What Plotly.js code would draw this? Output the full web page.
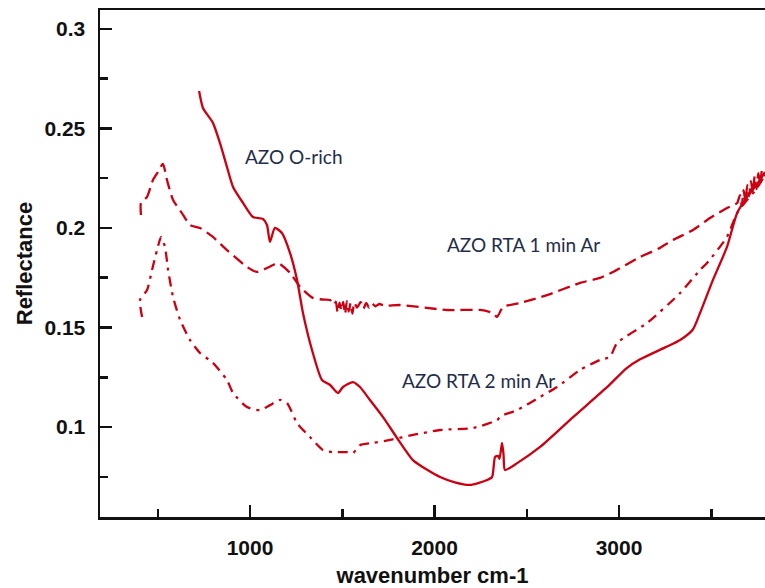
<!DOCTYPE html>
<html>
<head>
<meta charset="utf-8">
<script src="https://cdn.plot.ly/plotly-3.0.1.min.js"></script>
<style>html,body{margin:0;padding:0;background:#fff;}#chart{width:765px;height:588px;}</style>
</head>
<body>
<div id="chart"></div>
<script>
// AZO O-rich (solid)
const oRichX = [724, 745, 799, 837, 875, 908, 962, 1016, 1070, 1092, 1108, 1135, 1173, 1217, 1255, 1287, 1336, 1390, 1434, 1477, 1504, 1558, 1596, 1650, 1721, 1797, 1883, 1960, 2030, 2110, 2192, 2285, 2312, 2328, 2344, 2352, 2366, 2374, 2382, 2450, 2572, 2751, 2935, 3040, 3114, 3250, 3331, 3400, 3439, 3509, 3585, 3640, 3694, 3740, 3791];
const oRichY = [0.2688, 0.2603, 0.2528, 0.2427, 0.2307, 0.2206, 0.2126, 0.2055, 0.2045, 0.2015, 0.193, 0.200, 0.1975, 0.1874, 0.1739, 0.1573, 0.1387, 0.1236, 0.1211, 0.1171, 0.1201, 0.1226, 0.1201, 0.1136, 0.1050, 0.0945, 0.0834, 0.0785, 0.0749, 0.0722, 0.0709, 0.0734, 0.0749, 0.0849, 0.0855, 0.0840, 0.0920, 0.0860, 0.0784, 0.0820, 0.0900, 0.1050, 0.1200, 0.1295, 0.1340, 0.1400, 0.1437, 0.1490, 0.1573, 0.1739, 0.1905, 0.2075, 0.2156, 0.2210, 0.2281];

// AZO RTA 1 min Ar (dashed)
const rta1X = [409, 409, 442, 474, 501, 528, 550, 583, 631, 675, 729, 799, 875, 984, 1038, 1125, 1152, 1217, 1271, 1341, 1400, 1434, 1455, 1465, 1475, 1485, 1495, 1505, 1515, 1525, 1535, 1545, 1555, 1565, 1580, 1600, 1615, 1630, 1645, 1660, 1680, 1700, 1730, 1813, 2068, 2247, 2317, 2339, 2371, 2463, 2610, 2789, 2897, 2967, 3114, 3222, 3293, 3401, 3493, 3585, 3640, 3655, 3665, 3675, 3685, 3695, 3705, 3715, 3725, 3735, 3745, 3755, 3765, 3775, 3791];
const rta1Y = [0.2065, 0.2126, 0.2156, 0.2241, 0.2281, 0.2322, 0.2241, 0.2141, 0.2075, 0.2015, 0.2000, 0.1955, 0.1889, 0.1804, 0.1779, 0.1814, 0.1824, 0.1774, 0.1704, 0.1648, 0.1640, 0.1638, 0.1615, 0.1630, 0.1575, 0.1625, 0.1585, 0.1628, 0.1568, 0.1632, 0.1580, 0.1622, 0.1570, 0.1625, 0.1600, 0.1628, 0.1595, 0.1624, 0.1600, 0.1622, 0.1606, 0.1618, 0.1610, 0.1613, 0.1588, 0.1588, 0.1573, 0.1553, 0.1603, 0.1623, 0.1663, 0.1724, 0.1749, 0.1779, 0.1854, 0.1900, 0.1940, 0.1990, 0.2050, 0.2100, 0.2125, 0.2165, 0.2110, 0.2190, 0.2135, 0.2215, 0.2160, 0.2235, 0.2175, 0.2260, 0.2195, 0.2275, 0.2220, 0.2290, 0.2260];

// AZO RTA 2 min Ar (dash-dot)
const rta2X = [415, 404, 442, 469, 496, 518, 539, 556, 583, 621, 675, 729, 799, 875, 908, 984, 1054, 1108, 1163, 1201, 1255, 1325, 1396, 1450, 1526, 1558, 1596, 1667, 1759, 1883, 2030, 2209, 2339, 2360, 2447, 2572, 2664, 2789, 2897, 2951, 2989, 3152, 3331, 3439, 3477, 3585, 3640, 3694, 3740, 3791];
const rta2Y = [0.1553, 0.1638, 0.1688, 0.1789, 0.1889, 0.1955, 0.1905, 0.1789, 0.1653, 0.1538, 0.1437, 0.1372, 0.1322, 0.1236, 0.1171, 0.1100, 0.1085, 0.1110, 0.1136, 0.1120, 0.1020, 0.0950, 0.0884, 0.0874, 0.0874, 0.0869, 0.0909, 0.0920, 0.0935, 0.0960, 0.0985, 0.0995, 0.1035, 0.1055, 0.1085, 0.1151, 0.1201, 0.1287, 0.1337, 0.1352, 0.1422, 0.1523, 0.1673, 0.1789, 0.1824, 0.1955, 0.2075, 0.2141, 0.2190, 0.2266];

const labels = ["AZO O-rich", "AZO RTA 1 min Ar", "AZO RTA 2 min Ar"];
const labelX = [1233, 2480, 2236];
const labelY = [0.2357, 0.1915, 0.1236];

const red = "rgb(204,0,17)";
const traces = [
  {x: oRichX, y: oRichY, mode: "lines", name: labels[0], line: {color: red, width: 2.3, shape: "spline", smoothing: 0.6}},
  {x: rta1X, y: rta1Y, mode: "lines", name: labels[1], line: {color: red, width: 2.3, dash: "12px,6px", shape: "spline", smoothing: 0.6}},
  {x: rta2X, y: rta2Y, mode: "lines", name: labels[2], line: {color: red, width: 2.3, dash: "10px,6px,3px,6px", shape: "spline", smoothing: 0.6}}
];

const tickFont = {family: "Liberation Sans, Arial, sans-serif", size: 21, color: "#111", weight: 700};
const layout = {
  width: 765, height: 588,
  margin: {l: 100, r: 0, t: 10, b: 71},
  paper_bgcolor: "#fff", plot_bgcolor: "#fff",
  showlegend: false,
  xaxis: {
    range: [187, 3791], showgrid: false, zeroline: false,
    showline: true, linecolor: "#111", linewidth: 2.5, mirror: true,
    ticks: "inside", ticklen: 12, tickwidth: 2.5, tickcolor: "#111",
    tick0: 0, dtick: 1000, tickfont: tickFont, ticklabelstandoff: 10,
    minor: {ticks: "inside", ticklen: 8, tickwidth: 2.5, tickcolor: "#111", dtick: 500, tick0: 0, showgrid: false},
    title: {text: "wavenumber cm-1", font: {family: "Liberation Sans, Arial, sans-serif", size: 22, color: "#111", weight: 700}, standoff: 10}
  },
  yaxis: {
    range: [0.0548, 0.3095], showgrid: false, zeroline: false,
    showline: true, linecolor: "#111", linewidth: 2.5,
    ticks: "inside", ticklen: 12, tickwidth: 2.5, tickcolor: "#111",
    tick0: 0, dtick: 0.05, tickfont: tickFont, ticklabelstandoff: 8,
    minor: {ticks: "inside", ticklen: 8, tickwidth: 2.5, tickcolor: "#111", dtick: 0.025, tick0: 0, showgrid: false},
    title: {text: "Reflectance", font: {family: "Liberation Sans, Arial, sans-serif", size: 22, color: "#111", weight: 700}, standoff: 6}
  },
  annotations: labels.map((t, i) => ({
    x: labelX[i], y: labelY[i], xref: "x", yref: "y", text: t, showarrow: false,
    font: {family: "Lato, Open Sans, sans-serif", size: 19, color: "#1f2d4a"}
  }))
};

Plotly.newPlot("chart", traces, layout, {staticPlot: true, displayModeBar: false});
</script>
</body>
</html>
